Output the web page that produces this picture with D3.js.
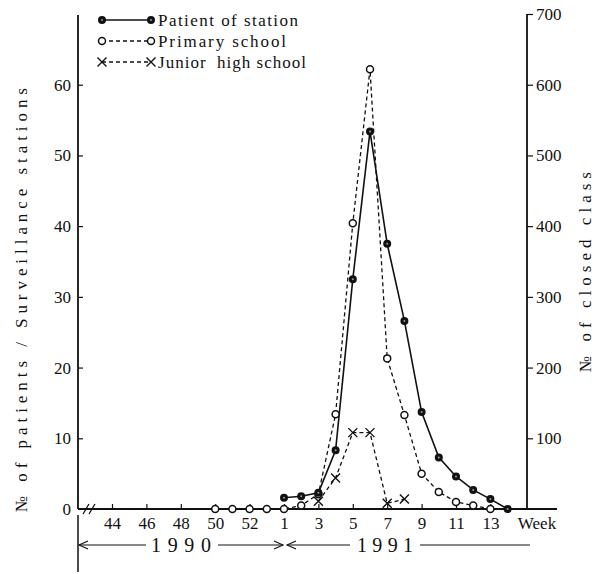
<!DOCTYPE html>
<html>
<head>
<meta charset="utf-8">
<script src="https://cdn.jsdelivr.net/npm/d3@7"></script>
<style>
  html, body { margin: 0; padding: 0; background: #fff; }
  svg text { font-family: "Liberation Serif", "DejaVu Serif", serif; fill: #111; }
</style>
</head>
<body>
<svg id="chart" width="597" height="574"></svg>
<script>
// Weekly epidemic-curve data, weeks 44 of 1990 through 14 of 1991
const weeks = ["44","45","46","47","48","49","50","51","52","53",
               "1","2","3","4","5","6","7","8","9","10","11","12","13","14"];
const tickWeeks = ["44","46","48","50","52","1","3","5","7","9","11","13"];

// Patients per surveillance station (left axis)
const patientWeeks = ["1","2","3","4","5","6","7","8","9","10","11","12","13","14"];
const patientValues = [1.6, 1.8, 2.3, 8.3, 32.5, 53.4, 37.5, 26.6, 13.7, 7.3, 4.6, 2.7, 1.4, 0];

// Closed classes, primary school (right axis)
const primaryWeeks = ["50","51","52","53","1","2","3","4","5","6","7","8","9","10","11","12","13"];
const primaryValues = [0, 0, 0, 0, 0, 5, 21, 134, 404, 622, 213, 133, 50, 24, 10, 5, 0];

// Closed classes, junior high school (right axis)
const juniorWeeks = ["3","4","5","6","7","8"];
const juniorValues = [11, 44, 108, 108, 8, 14];

const leftTicks = [0, 10, 20, 30, 40, 50, 60];
const rightTicks = [100, 200, 300, 400, 500, 600, 700];

const svg = d3.select("#chart");
const ink = "#111";
const tickFont = 17;

const x = d3.scalePoint().domain(weeks).range([112, 507.6]);
const yL = d3.scaleLinear().domain([0, 70]).range([509, 14]);
const yR = d3.scaleLinear().domain([0, 700]).range([509, 14]);

const axisLeftX = 78, axisRightX = 527, baseY = yL(0);

// Left axis: ticks point inward
const gL = svg.append("g").attr("transform", `translate(${axisLeftX},0)`)
  .call(d3.axisLeft(yL).tickValues(leftTicks).tickSizeInner(-5).tickSizeOuter(0).tickPadding(7));
gL.select(".domain").remove();
gL.selectAll(".tick line").attr("stroke", ink).attr("stroke-width", 1.2)
  .filter(d => d === 0).remove();
gL.selectAll("text").attr("font-size", tickFont).attr("font-family", "Liberation Serif");
svg.append("line").attr("x1", axisLeftX).attr("x2", axisLeftX)
  .attr("y1", yL(70) + 1).attr("y2", baseY).attr("stroke", ink).attr("stroke-width", 1.8);

// Right axis: ticks point outward
const gR = svg.append("g").attr("transform", `translate(${axisRightX},0)`)
  .call(d3.axisRight(yR).tickValues(rightTicks).tickSizeInner(6).tickSizeOuter(0).tickPadding(3));
gR.select(".domain").remove();
gR.selectAll(".tick line").attr("stroke", ink).attr("stroke-width", 1.2);
gR.selectAll("text").attr("font-size", tickFont).attr("font-family", "Liberation Serif");
svg.append("line").attr("x1", axisRightX).attr("x2", axisRightX)
  .attr("y1", yR(700)).attr("y2", baseY).attr("stroke", ink).attr("stroke-width", 1.8);

// Bottom axis
const gB = svg.append("g").attr("transform", `translate(0,${baseY})`)
  .call(d3.axisBottom(x).tickValues(tickWeeks).tickSizeInner(-5).tickSizeOuter(0).tickPadding(8));
gB.select(".domain").remove();
gB.selectAll(".tick line").attr("stroke", ink).attr("stroke-width", 1.2);
gB.selectAll("text").attr("font-size", tickFont).attr("font-family", "Liberation Serif");
svg.append("line").attr("x1", axisLeftX).attr("x2", 557)
  .attr("y1", baseY).attr("y2", baseY).attr("stroke", ink).attr("stroke-width", 1.8);
svg.append("text").attr("x", 537).attr("y", baseY + 20).attr("text-anchor", "middle")
  .attr("font-size", tickFont).text("Week");

// Axis break marks
[86, 92].forEach(bx => {
  svg.append("path")
    .attr("d", `M${bx - 3},${baseY + 5} C${bx - 1},${baseY + 2} ${bx + 1},${baseY - 2} ${bx + 3},${baseY - 5}`)
    .attr("fill", "none").attr("stroke", ink).attr("stroke-width", 1.3);
});

// Year bands under the week axis
svg.append("line").attr("x1", axisLeftX).attr("x2", axisLeftX)
  .attr("y1", baseY + 6).attr("y2", 572).attr("stroke", ink).attr("stroke-width", 1.5);
const yearY = 545;
const yearStart = axisLeftX, yearSplit = x("1") - 1;
function arrowHead(px, dir) {
  svg.append("path")
    .attr("d", `M${px - dir * 9},${yearY - 4} L${px},${yearY} L${px - dir * 9},${yearY + 4}`)
    .attr("fill", "none").attr("stroke", ink).attr("stroke-width", 1.1);
}
svg.append("line").attr("x1", yearStart + 1).attr("x2", 146).attr("y1", yearY).attr("y2", yearY)
  .attr("stroke", ink).attr("stroke-width", 1.1);
arrowHead(yearStart + 1, -1);
svg.append("text").attr("x", 151).attr("y", yearY + 7)
  .attr("font-size", 20).attr("textLength", 60).attr("lengthAdjust", "spacing").text("1990");
svg.append("line").attr("x1", 218).attr("x2", yearSplit).attr("y1", yearY).attr("y2", yearY)
  .attr("stroke", ink).attr("stroke-width", 1.1);
arrowHead(yearSplit, 1);
svg.append("line").attr("x1", yearSplit + 4).attr("x2", 350).attr("y1", yearY).attr("y2", yearY)
  .attr("stroke", ink).attr("stroke-width", 1.1);
arrowHead(yearSplit + 4, -1);
svg.append("text").attr("x", 357).attr("y", yearY + 7)
  .attr("font-size", 20).attr("textLength", 56).attr("lengthAdjust", "spacing").text("1991");
svg.append("line").attr("x1", 420).attr("x2", 530).attr("y1", yearY).attr("y2", yearY)
  .attr("stroke", ink).attr("stroke-width", 1.1);

// Axis titles
svg.append("text").attr("transform", `translate(27,300) rotate(-90)`)
  .attr("text-anchor", "middle").attr("font-size", 17)
  .attr("textLength", 424).attr("lengthAdjust", "spacing")
  .text("№ of patients / Surveillance stations");
svg.append("text").attr("transform", `translate(591,272) rotate(-90)`)
  .attr("text-anchor", "middle").attr("font-size", 17)
  .attr("textLength", 200).attr("lengthAdjust", "spacing")
  .text("№ of closed class");

// Series
const patient = patientWeeks.map((w, i) => ({ w, v: patientValues[i] }));
const primary = primaryWeeks.map((w, i) => ({ w, v: primaryValues[i] }));
const junior = juniorWeeks.map((w, i) => ({ w, v: juniorValues[i] }));

const lineL = d3.line().x(d => x(d.w)).y(d => yL(d.v));
const lineR = d3.line().x(d => x(d.w)).y(d => yR(d.v));

svg.append("path").datum(primary).attr("d", lineR).attr("fill", "none")
  .attr("stroke", ink).attr("stroke-width", 1.3).attr("stroke-dasharray", "4,3");
svg.append("path").datum(junior).attr("d", lineR).attr("fill", "none")
  .attr("stroke", ink).attr("stroke-width", 1.3).attr("stroke-dasharray", "4,3");
svg.append("path").datum(patient).attr("d", lineL).attr("fill", "none")
  .attr("stroke", ink).attr("stroke-width", 1.6);

function filledDot(g, cx, cy) {
  g.append("circle").attr("cx", cx).attr("cy", cy).attr("r", 4).attr("fill", ink);
  g.append("circle").attr("cx", cx).attr("cy", cy).attr("r", 1).attr("fill", "#999");
}
function openDot(g, cx, cy) {
  g.append("circle").attr("cx", cx).attr("cy", cy).attr("r", 3.5)
    .attr("fill", "#fff").attr("stroke", ink).attr("stroke-width", 1.5);
}
function cross(g, cx, cy) {
  const s = 4.5;
  g.append("path").attr("d", `M${cx - s},${cy - s}L${cx + s},${cy + s}M${cx - s},${cy + s}L${cx + s},${cy - s}`)
    .attr("stroke", ink).attr("stroke-width", 1.4).attr("fill", "none");
}

const gm = svg.append("g");
primary.forEach(d => openDot(gm, x(d.w), yR(d.v)));
junior.forEach(d => cross(gm, x(d.w), yR(d.v)));
patient.forEach(d => filledDot(gm, x(d.w), yL(d.v)));

// Legend
const legend = [
  { label: "Patient of station", kind: "filled", len: 140, y: 20 },
  { label: "Primary school", kind: "open", len: 128, y: 41 },
  { label: "Junior  high school", kind: "cross", len: 148, y: 62 }
];
const lg = svg.append("g");
legend.forEach(item => {
  lg.append("line").attr("x1", 102).attr("x2", 149).attr("y1", item.y).attr("y2", item.y)
    .attr("stroke", ink).attr("stroke-width", item.kind === "filled" ? 1.6 : 1.3)
    .attr("stroke-dasharray", item.kind === "filled" ? null : "4,3");
  if (item.kind === "filled") { filledDot(lg, 102, item.y); filledDot(lg, 151, item.y); }
  if (item.kind === "open") { openDot(lg, 102, item.y); openDot(lg, 151, item.y); }
  if (item.kind === "cross") { cross(lg, 102, item.y); cross(lg, 151, item.y); }
  lg.append("text").attr("x", 158).attr("y", item.y + 6).attr("font-size", 17)
    .attr("textLength", item.len).attr("lengthAdjust", "spacing")
    .attr("xml:space", "preserve").text(item.label);
});
</script>
</body>
</html>
